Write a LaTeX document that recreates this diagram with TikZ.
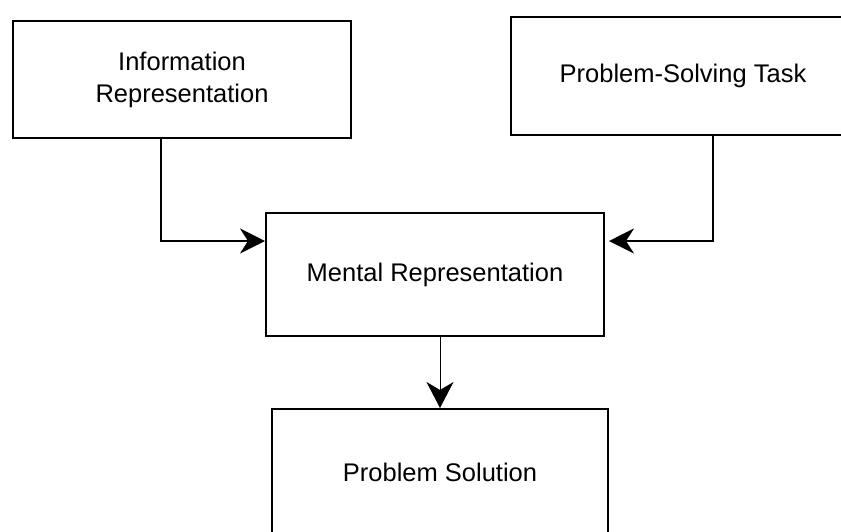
\documentclass[tikz,border=0pt]{standalone}
\usepackage{fontspec}
\setmainfont{Liberation Sans}
\usetikzlibrary{arrows.meta}
\begin{document}
\begin{tikzpicture}[x=1pt,y=-1pt,
  box/.style={draw, line width=2pt, rectangle, inner sep=0pt, align=center,
    font=\fontsize{25.5}{32}\selectfont},
  conn/.style={line width=1.8pt, -{Stealth[length=25pt,width=25pt,inset=8pt]}},
  thinconn/.style={line width=1pt, -{Stealth[length=26pt,width=27pt,inset=8pt]}}]
\useasboundingbox (0,0) rectangle (841,531);
\clip (0,0) rectangle (841,531);
\node[box, minimum width=338pt, minimum height=117pt] (info) at (182,79.5) {Information\\Representation};
\node[box, minimum width=344pt, minimum height=118pt] (task) at (683,76) {Problem-Solving Task};
\node[box, minimum width=338pt, minimum height=123pt] (mental) at (435,274.5) {Mental Representation};
\node[box, minimum width=336pt, minimum height=126pt] (sol) at (440,472) {Problem Solution};
\coordinate (c1) at (161,241);
\coordinate (c2) at (713,241);
\coordinate (c3) at (440,0);
\draw[conn] (c1 |- info.south) |- (mental.west |- c1);
\draw[conn, shorten >=4pt] (c2 |- task.south) |- (mental.east |- c2);
\draw[thinconn] (c3 |- mental.south) -- (c3 |- sol.north);
\end{tikzpicture}
\end{document}
